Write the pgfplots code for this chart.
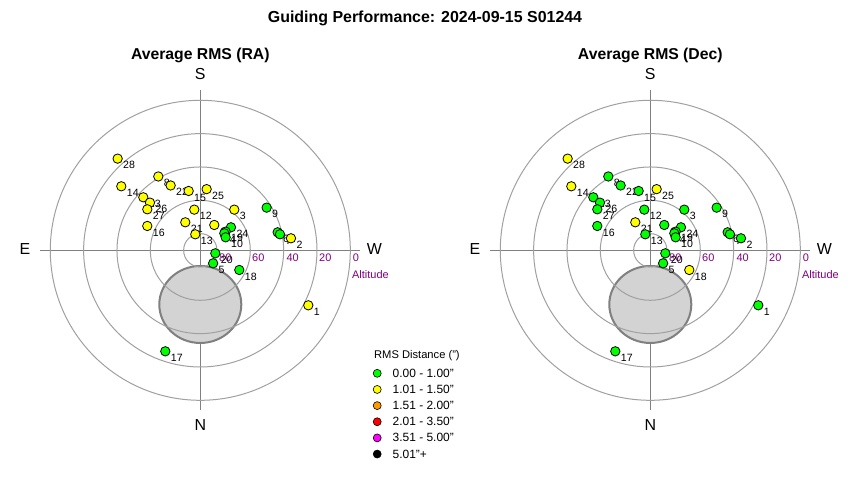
\documentclass[border=0pt]{standalone}
\usepackage{fontspec}
\setmainfont{Liberation Sans}
\usepackage{pgfplots}
\usepackage{pgfplotstable}
\pgfplotsset{compat=1.18}

\definecolor{ptgreen}{HTML}{00FF00}
\definecolor{ptyellow}{HTML}{FFFF00}
\definecolor{ptorange}{HTML}{FF9900}
\definecolor{ptred}{HTML}{FF0000}
\definecolor{ptmag}{HTML}{FF00FF}
\definecolor{altpurple}{HTML}{800080}
\definecolor{ringgray}{HTML}{A0A0A0}
\definecolor{axgray}{HTML}{808080}
\definecolor{moonfill}{HTML}{D3D3D3}

% x, y: offset from zenith in degrees (horizon = 90), W to the right, S up
\pgfplotstableread{
lab x y ra dec
28 -49.6 55.0 Y Y
8 -25.2 44.3 Y G
14 -47.4 38.4 Y Y
22 -17.8 38.9 Y G
15 -7.0 35.6 Y G
25 3.8 36.7 Y Y
23 -34.2 31.8 Y G
26 -30.2 28.6 Y G
27 -31.8 24.6 Y G
16 -31.8 14.6 Y G
12 -3.6 24.4 Y G
3 20.4 24.4 Y G
21 -9.0 16.8 Y Y
13 -3.0 9.6 Y G
11 8.4 15.2 Y G
24 18.4 13.8 G G
19 15.2 11.2 G G
4 14.4 10.2 G G
10 15.2 7.8 G G
9 39.8 25.6 G G
6 46.4 10.8 G G
7 47.8 9.6 G G
2 54.4 7.2 Y G
20 9.0 -1.8 G G
5 7.7 -7.8 G G
18 23.4 -11.8 G Y
1 64.8 -33.0 Y G
17 -21.0 -60.6 G G
}\pts

\pgfplotsset{
  skyplot/.style={
    x=1.6667bp, y=1.6667bp,
    xmin=-105, xmax=105, ymin=-105, ymax=105,
    hide axis, clip=false, anchor=center,
  },
  ptlabels/.style={
    draw=none, mark=none, forget plot,
    nodes near coords, point meta=explicit symbolic,
    every node near coord/.style={anchor=west, inner sep=0pt,
      xshift=5.4bp, yshift=-6.5bp, text=black,
      font=\fontsize{10.6}{12}\selectfont},
  },
  ptmarks/.style={
    scatter, only marks, mark=*, mark size=4.7bp, forget plot,
    scatter src=explicit symbolic,
    mark options={line width=0.8bp},
    scatter/classes={
      G={draw=black, fill=ptgreen},
      Y={draw=black, fill=ptyellow}},
  },
}

\newcommand{\skybackground}{%
  \draw[axgray, line width=1bp] (axis cs:-96,0) -- (axis cs:96,0);
  \draw[axgray, line width=1bp] (axis cs:0,-96) -- (axis cs:0,96);
  \draw[axgray, line width=2bp, fill=moonfill] (axis cs:0,-32.5) ellipse[x radius=41bp, y radius=38.5bp];
  \draw[ringgray, line width=1bp] (axis cs:0,0) circle[radius=16.667bp];
  \draw[ringgray, line width=1bp] (axis cs:0,0) circle[radius=50bp];
  \draw[ringgray, line width=1bp] (axis cs:0,0) circle[radius=83.333bp];
  \draw[ringgray, line width=1bp] (axis cs:0,0) circle[radius=116.667bp];
  \draw[ringgray, line width=1bp] (axis cs:0,0) circle[radius=150bp];
  \node[font=\fontsize{16}{18}\selectfont] at (axis cs:0,105.8) {S};
  \node[font=\fontsize{16}{18}\selectfont] at (axis cs:0,-104.8) {N};
  \node[font=\fontsize{16}{18}\selectfont] at (axis cs:-105.2,0.6) {E};
  \node[font=\fontsize{16}{18}\selectfont] at (axis cs:104.4,0.6) {W};
  \node[anchor=west, inner sep=0pt, text=altpurple, font=\fontsize{11}{13}\selectfont] at (axis cs:11.2,-4.4) {80};
  \node[anchor=west, inner sep=0pt, text=altpurple, font=\fontsize{11}{13}\selectfont] at (axis cs:31.0,-4.4) {60};
  \node[anchor=west, inner sep=0pt, text=altpurple, font=\fontsize{11}{13}\selectfont] at (axis cs:51.6,-4.4) {40};
  \node[anchor=west, inner sep=0pt, text=altpurple, font=\fontsize{11}{13}\selectfont] at (axis cs:71.2,-4.4) {20};
  \node[anchor=west, inner sep=0pt, text=altpurple, font=\fontsize{11}{13}\selectfont] at (axis cs:91.4,-4.4) {0};
  \node[anchor=west, inner sep=0pt, text=altpurple, font=\fontsize{11}{13}\selectfont] at (axis cs:91.0,-14.8) {Altitude};
}

\begin{document}
\begin{tikzpicture}
\path (0bp,0bp) rectangle (850bp,-480bp);
\node[font=\bfseries\fontsize{16}{18}\selectfont] at (425bp,-18bp) {Guiding Performance: 2024-09-15 S01244};
\node[font=\bfseries\fontsize{15.8}{18}\selectfont] at (200.3bp,-55bp) {Average RMS (RA)};
\node[font=\bfseries\fontsize{15.8}{18}\selectfont] at (650.3bp,-55bp) {Average RMS (Dec)};

\begin{axis}[skyplot, at={(200.3bp,-250.3bp)},
  legend style={at={(0.994,0.16)}, anchor=north west, draw=none, fill=none,
    inner sep=0pt, outer sep=0pt, row sep=8.15bp,
    nodes={inner sep=0pt, text height=8bp, text depth=0bp},
    font=\fontsize{12}{14}\selectfont,
    /tikz/every odd column/.style={column sep=11.5bp}},
  legend cell align=left,
  legend image code/.code={\draw[#1] plot coordinates {(0bp,0bp)};},
]
\skybackground
\addplot[ptlabels] table[x=x, y=y, meta=lab] {\pts};
\addplot[ptmarks] table[x=x, y=y, meta=ra] {\pts};
\addlegendimage{only marks, mark=*, mark size=4bp, mark options={fill=ptgreen, draw=black, line width=0.6bp}}
\addlegendentry{0.00 - 1.00"}
\addlegendimage{only marks, mark=*, mark size=4bp, mark options={fill=ptyellow, draw=black, line width=0.6bp}}
\addlegendentry{1.01 - 1.50"}
\addlegendimage{only marks, mark=*, mark size=4bp, mark options={fill=ptorange, draw=black, line width=0.6bp}}
\addlegendentry{1.51 - 2.00"}
\addlegendimage{only marks, mark=*, mark size=4bp, mark options={fill=ptred, draw=black, line width=0.6bp}}
\addlegendentry{2.01 - 3.50"}
\addlegendimage{only marks, mark=*, mark size=4bp, mark options={fill=ptmag, draw=black, line width=0.6bp}}
\addlegendentry{3.51 - 5.00"}
\addlegendimage{only marks, mark=*, mark size=4bp, mark options={fill=black, draw=black, line width=0.6bp}}
\addlegendentry{5.01"+}
\node[anchor=west, inner sep=0pt, font=\fontsize{11.2}{13}\selectfont] at (axis cs:104.2,-63.4) {RMS Distance (")};
\end{axis}

\begin{axis}[skyplot, at={(650.3bp,-250.3bp)}]
\skybackground
\addplot[ptlabels] table[x=x, y=y, meta=lab] {\pts};
\addplot[ptmarks] table[x=x, y=y, meta=dec] {\pts};
\end{axis}
\end{tikzpicture}
\end{document}
